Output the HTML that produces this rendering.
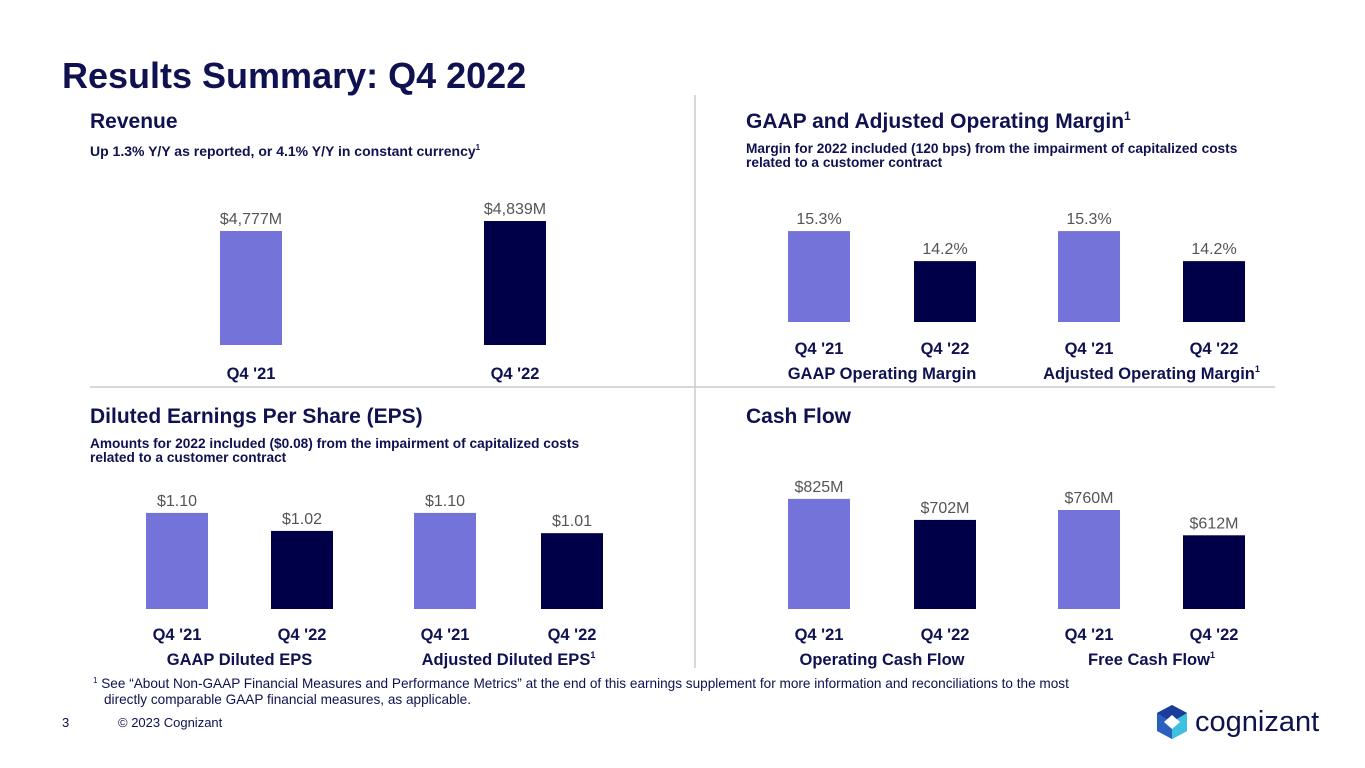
<!DOCTYPE html>
<html><head><meta charset="utf-8"><style>
body{margin:0;background:#fff;}
svg{display:block;font-family:"Liberation Sans",sans-serif;}
.t{fill:#0f1150;font-weight:bold;}
.v{fill:#555;font-size:16px;}
.c{fill:#0f1150;font-weight:bold;font-size:16.5px;}
</style></head><body>
<svg id="s" width="1365" height="768" viewBox="0 0 1365 768">
<text class="t" x="62" y="88" font-size="36">Results Summary: Q4 2022</text>
<line x1="695" y1="95" x2="695" y2="668" stroke="#ccc" stroke-width="1.5"/>
<line x1="90" y1="387" x2="1275" y2="387" stroke="#ccc" stroke-width="1.5"/>
<text class="t" x="90" y="128" font-size="21">Revenue</text>
<text class="t" x="90" y="156" font-size="14">Up 1.3% Y/Y as reported, or 4.1% Y/Y in constant currency<tspan font-size="8" dy="-6">1</tspan></text>
<text class="t" x="746" y="128" font-size="21">GAAP and Adjusted Operating Margin<tspan font-size="12" dy="-8">1</tspan></text>
<text class="t" x="746" y="153" font-size="13.7">Margin for 2022 included (120 bps) from the impairment of capitalized costs</text>
<text class="t" x="746" y="167" font-size="13.7">related to a customer contract</text>
<text class="t" x="90" y="423" font-size="21">Diluted Earnings Per Share (EPS)</text>
<text class="t" x="90" y="448" font-size="13.7">Amounts for 2022 included ($0.08) from the impairment of capitalized costs</text>
<text class="t" x="90" y="462" font-size="13.7">related to a customer contract</text>
<text class="t" x="746" y="423" font-size="21">Cash Flow</text>
<text x="93" y="688" font-size="13.6" fill="#0f1150"><tspan font-size="8" dy="-5">1</tspan><tspan dy="5"> See “About Non-GAAP Financial Measures and Performance Metrics” at the end of this earnings supplement for more information and reconciliations to the most</tspan></text>
<text x="104" y="704" font-size="13.6" fill="#0f1150">directly comparable GAAP financial measures, as applicable.</text>
<text x="62" y="727" font-size="13" fill="#0f1150">3</text>
<text x="118" y="727" font-size="13" fill="#0f1150">© 2023 Cognizant</text>
<g>
<polygon points="1172,705 1187,713 1187,731 1172,739 1157,731 1157,713" fill="#2a5fbf"/>
<polygon points="1172,705 1187,713 1172,722 1157,713" fill="#1a3c9a"/>
<polygon points="1172,722 1187,713 1187,731 1172,739" fill="#3fc0e0"/>
<polygon points="1164,722 1172,715 1180,722 1172,729" fill="#fff"/>
<text x="1195" y="731" font-size="29" fill="#0f1150">cognizant</text>
</g>
<g id="charts"></g>
</svg>
<script>
// Revenue
const revCats=["Q4 '21","Q4 '22"];
const revVals=[4777,4839];
const revLabels=["$4,777M","$4,839M"];
// Operating margin
const marCats=["Q4 '21","Q4 '22","Q4 '21","Q4 '22"];
const marVals=[15.3,14.2,15.3,14.2];
const marLabels=["15.3%","14.2%","15.3%","14.2%"];
const marGroups=["GAAP Operating Margin","Adjusted Operating Margin"];
// EPS
const epsCats=["Q4 '21","Q4 '22","Q4 '21","Q4 '22"];
const epsVals=[1.10,1.02,1.10,1.01];
const epsLabels=["$1.10","$1.02","$1.10","$1.01"];
const epsGroups=["GAAP Diluted EPS","Adjusted Diluted EPS"];
// Cash flow
const cfCats=["Q4 '21","Q4 '22","Q4 '21","Q4 '22"];
const cfVals=[825,702,760,612];
const cfLabels=["$825M","$702M","$760M","$612M"];
const cfGroups=["Operating Cash Flow","Free Cash Flow"];

const NS="http://www.w3.org/2000/svg";
const root=document.getElementById('charts');
function mk(tag,attrs,parent){const e=document.createElementNS(NS,tag);for(const k in attrs)e.setAttribute(k,attrs[k]);parent.appendChild(e);return e;}
function chart(name,cats,vals,labels,groups,xs,base,d0,k,catY,labelAlpha,sups){
  const g=mk('g',{},root);
  
  
  const y=v=>base-(v-d0)*k;
  vals.forEach((v,i)=>{
    const top=y(v);
    const r=mk('rect',{x:xs[i],y:top,width:62,height:base-top,fill:i%2?'#000048':'#7373d9'},g);
    
    
    const t=mk('text',{x:xs[i]+31,y:top-7,'text-anchor':'middle',class:'v'},g);
    t.textContent=labels[i];
    
    
    const c=mk('text',{x:xs[i]+31,y:catY,'text-anchor':'middle',class:'c'},g);
    c.textContent=cats[i];
    
    
  });
  (groups||[]).forEach((gl,j)=>{
    const cx=(xs[2*j]+xs[2*j+1]+62)/2;
    const t=mk('text',{x:cx,y:catY+25,'text-anchor':'middle',class:'c'},g);
    t.textContent=gl;
    if(sups&&sups[j]){const s=mk('tspan',{'font-size':'9',dy:'-7'},t);s.textContent='1';}
    
    
  });
}
chart('revenue',revCats,revVals,revLabels,null,[220,484],345,4069,0.161,379);
chart('operating-margin',marCats,marVals,marLabels,marGroups,[788,914,1058,1183],322,11.97,27.3,354,0,[0,1]);
chart('eps',epsCats,epsVals,epsLabels,epsGroups,[146,271,414,541],609,0.673,225,640,0,[0,1]);
chart('cash-flow',cfCats,cfVals,cfLabels,cfGroups,[788,914,1058,1183],609,181,0.171,640,0,[0,1]);
</script>
</body></html>
